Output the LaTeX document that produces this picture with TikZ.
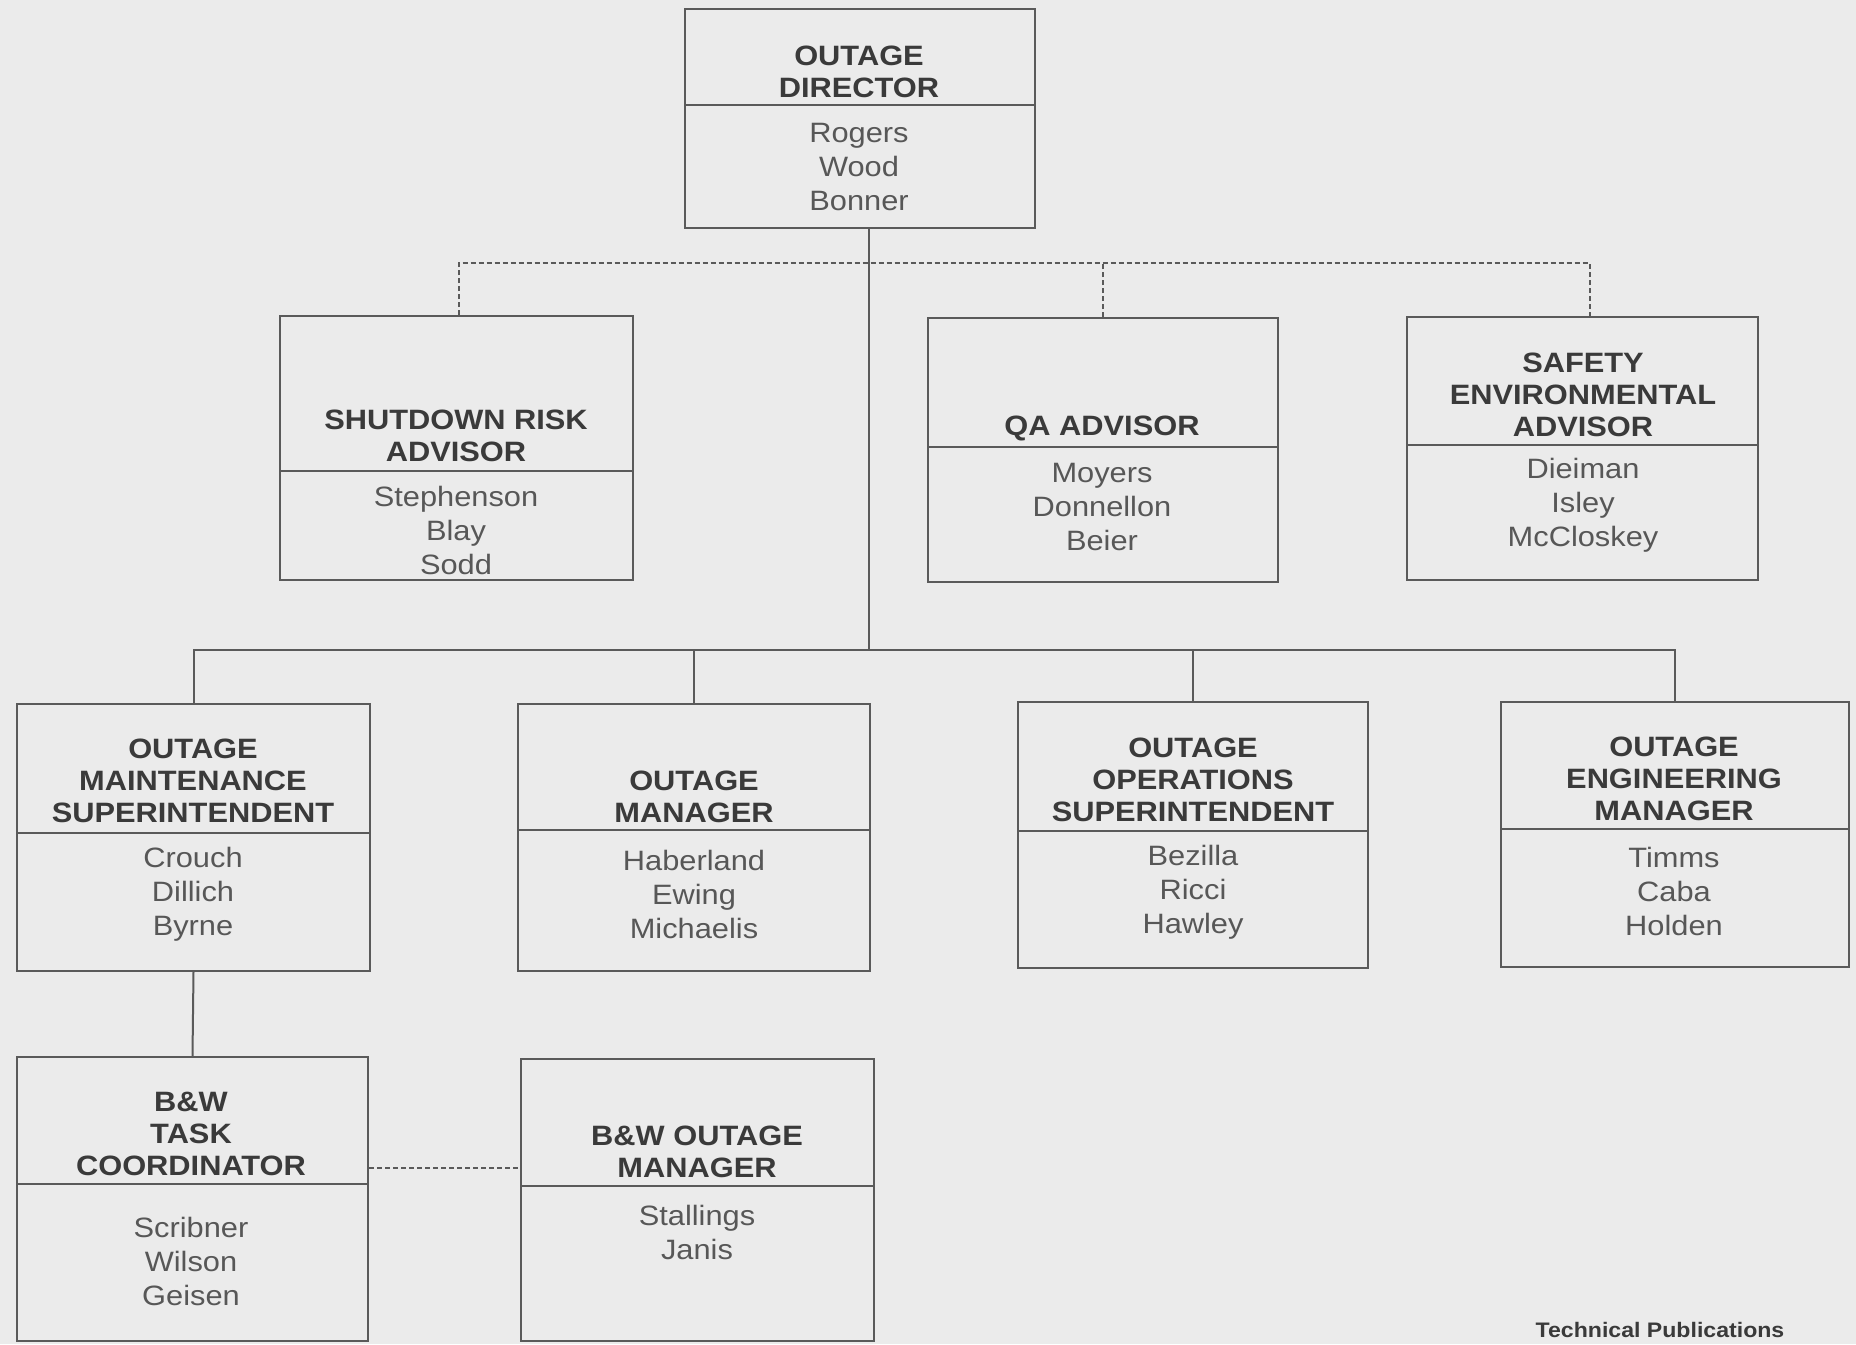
\documentclass[tikz,border=0pt]{standalone}
\usepackage{fontspec}
\setmainfont{Liberation Sans}[FakeStretch=1.1]
\usetikzlibrary{fit}
\definecolor{bg}{HTML}{EBEBEB}
\definecolor{ln}{HTML}{5A5A5A}
\definecolor{tx}{HTML}{3A3A3A}
\begin{document}
\begin{tikzpicture}[x=0.5pt,y=-0.5pt,
 box/.style={draw=ln, line width=1pt, inner sep=0pt},
 divider/.style={draw=ln, line width=1pt},
 ttl/.style={text=tx, font=\fontsize{14}{16}\selectfont\bfseries, align=center, inner sep=0pt},
 nms/.style={text=tx!85, font=\fontsize{14}{17}\selectfont, align=center, inner sep=0pt},
 conn/.style={draw=ln, line width=1pt},
 dconn/.style={draw=ln, line width=1pt, dash pattern=on 2.5pt off 1.5pt}]
\fill[bg] (0,0) rectangle (1856,1344);
\useasboundingbox (0,0) rectangle (1856,1344);

% boxes
\node[box, fit={(685,9) (1035,228)}] (dir) {};
\node[box, fit={(280,316) (633,580)}] (shut) {};
\node[box, fit={(928,318) (1278,582)}] (qa) {};
\node[box, fit={(1407,317) (1758,580)}] (saf) {};
\node[box, fit={(17,704) (370,971)}] (maint) {};
\node[box, fit={(518,704) (870,971)}] (omgr) {};
\node[box, fit={(1018,702) (1368,968)}] (ops) {};
\node[box, fit={(1501,702) (1849,967)}] (eng) {};
\node[box, fit={(17,1057) (368,1341)}] (task) {};
\node[box, fit={(521,1059) (874,1341)}] (bwm) {};

% dividers
\draw[divider] (685,105) -- (1035,105);
\draw[divider] (280,471) -- (633,471);
\draw[divider] (928,447) -- (1278,447);
\draw[divider] (1407,445) -- (1758,445);
\draw[divider] (17,833) -- (370,833);
\draw[divider] (518,830) -- (870,830);
\draw[divider] (1018,831) -- (1368,831);
\draw[divider] (1501,829) -- (1849,829);
\draw[divider] (17,1184) -- (368,1184);
\draw[divider] (521,1186) -- (874,1186);

% texts
\node[ttl] (dirT) at (859,72) {OUTAGE\\DIRECTOR};
\node[nms] (dirN) at (859,167) {Rogers\\Wood\\Bonner};
\node[ttl] (shutT) at (456,436) {SHUTDOWN RISK\\ADVISOR};
\node[nms] (shutN) at (456,530) {Stephenson\\Blay\\Sodd};
\node[ttl] (qaT) at (1102,428) {QA ADVISOR};
\node[nms] (qaN) at (1102,507) {Moyers\\Donnellon\\Beier};
\node[ttl] (safT) at (1583,395) {SAFETY\\ENVIRONMENTAL\\ADVISOR};
\node[nms] (safN) at (1583,505) {Dieiman\\Isley\\McCloskey};
\node[ttl] (maintT) at (193,781) {OUTAGE\\MAINTENANCE\\SUPERINTENDENT};
\node[nms] (maintN) at (193,894) {Crouch\\Dillich\\Byrne};
\node[ttl] (omgrT) at (694,797) {OUTAGE\\MANAGER};
\node[nms] (omgrN) at (694,894) {Haberland\\Ewing\\Michaelis};
\node[ttl] (opsT) at (1193,780) {OUTAGE\\OPERATIONS\\SUPERINTENDENT};
\node[nms] (opsN) at (1193,892) {Bezilla\\Ricci\\Hawley};
\node[ttl] (engT) at (1674,779) {OUTAGE\\ENGINEERING\\MANAGER};
\node[nms] (engN) at (1674,891) {Timms\\Caba\\Holden};
\node[ttl] (taskT) at (191,1134) {B\&W\\TASK\\COORDINATOR};
\node[nms] (taskN) at (191,1261) {Scribner\\Wilson\\Geisen};
\node[ttl] (bwmT) at (697,1152) {B\&W OUTAGE\\MANAGER};
\node[nms] (bwmN) at (697,1232) {Stallings\\Janis};
\node[text=tx, font=\fontsize{10.5}{12}\selectfont\bfseries, inner sep=0pt] (tp) at (1660,1330) {Technical Publications};

% connectors
\coordinate (jtop) at (869,650);
\coordinate (dj) at (869,263);
\coordinate (dl) at (0,1168);
\draw[conn] (dir.south -| jtop) -- (jtop);
\draw[conn] (maint.north) -- (maint.north |- jtop) -- (eng.north |- jtop) -- (eng.north);
\draw[conn] (omgr.north) -- (omgr.north |- jtop);
\draw[conn] (ops.north) -- (ops.north |- jtop);
\draw[conn] (maint.south) -- (task.north);
\draw[dconn] ([xshift=1pt]shut.north) -- ([xshift=1pt]shut.north |- dj) -- ([xshift=3.5pt]saf.north |- dj) -- ([xshift=3.5pt]saf.north);
\draw[dconn] (qa.north) -- (qa.north |- dj);
\draw[dconn] (task.east |- dl) -- (bwm.west |- dl);
\end{tikzpicture}
\end{document}
